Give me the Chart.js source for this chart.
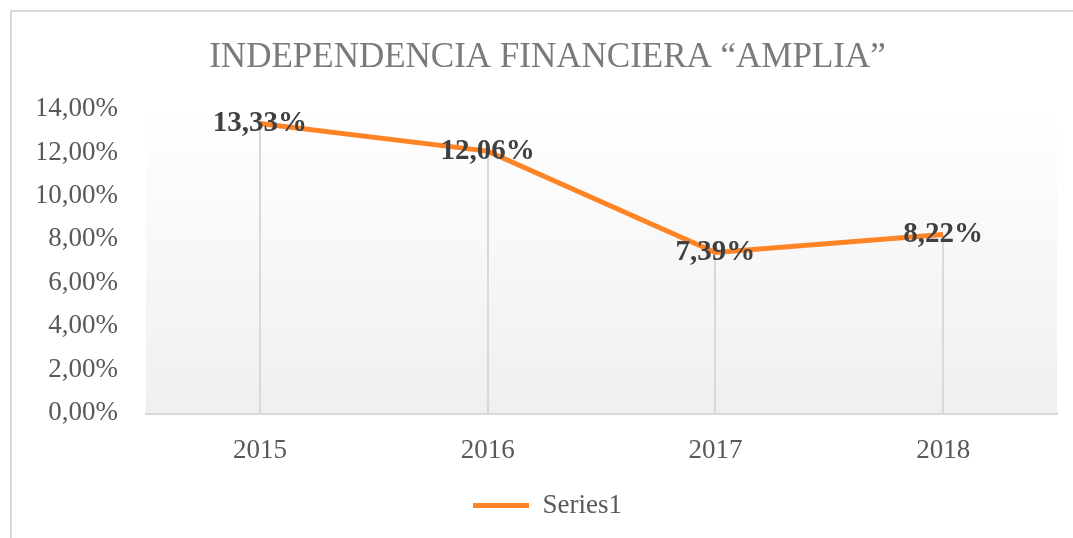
<!DOCTYPE html>
<html>
<head>
<meta charset="utf-8">
<script src="https://cdn.jsdelivr.net/npm/chart.js@4"></script>
<style>
  html, body { margin: 0; padding: 0; background: #fff; }
  #wrap { position: relative; width: 1073px; height: 538px; overflow: hidden; }
  #frame { position: absolute; left: 10px; top: 10px; width: 1080px; height: 540px; border: 2px solid #d9d9d9; box-sizing: border-box; }
  canvas { position: absolute; left: 0; top: 0; }
</style>
</head>
<body>
<div id="wrap">
  <div id="frame"></div>
  <canvas id="myChart" width="1073" height="538"></canvas>
</div>
<script>
// data
const years = ['2015', '2016', '2017', '2018'];
const series1 = [13.33, 12.06, 7.39, 8.22];
const yTicks = [0, 2, 4, 6, 8, 10, 12, 14];

const serif = '"Liberation Serif", "Times New Roman", serif';
const orange = '#ff8426';

function pct(v) {
  return v.toFixed(2).replace('.', ',') + '%';
}

// gradient panel + drop lines behind the line, labels on top
const excelLook = {
  id: 'excelLook',
  beforeDatasetsDraw(chart) {
    const { ctx, chartArea } = chart;
    const g = ctx.createLinearGradient(0, chartArea.top, 0, chartArea.bottom);
    g.addColorStop(0, '#ffffff');
    g.addColorStop(1, '#efefef');
    ctx.save();
    ctx.fillStyle = g;
    ctx.fillRect(chartArea.left, chartArea.top, chartArea.right - chartArea.left, chartArea.bottom - chartArea.top);
    const meta = chart.getDatasetMeta(0);
    ctx.strokeStyle = '#d9d9d9';
    ctx.lineWidth = 2;
    meta.data.forEach(pt => {
      ctx.beginPath();
      ctx.moveTo(Math.round(pt.x), pt.y);
      ctx.lineTo(Math.round(pt.x), chartArea.bottom);
      ctx.stroke();
    });
    ctx.restore();
  },
  afterDatasetsDraw(chart) {
    const { ctx } = chart;
    const meta = chart.getDatasetMeta(0);
    ctx.save();
    ctx.font = 'bold 29px ' + serif;
    ctx.fillStyle = '#404040';
    ctx.textAlign = 'center';
    ctx.textBaseline = 'middle';
    meta.data.forEach((pt, i) => {
      ctx.fillText(pct(series1[i]), pt.x, pt.y);
    });
    ctx.restore();
  }
};

const ctx = document.getElementById('myChart');
new Chart(ctx, {
  type: 'line',
  data: {
    labels: years,
    datasets: [{
      label: 'Series1',
      data: series1,
      borderColor: orange,
      backgroundColor: orange,
      borderWidth: 5,
      pointRadius: 0,
      pointHoverRadius: 0,
      tension: 0,
      pointStyle: 'line'
    }]
  },
  options: {
    responsive: false,
    animation: false,
    layout: { padding: { top: 37, right: 16, left: 38, bottom: 9 } },
    plugins: {
      tooltip: { enabled: false },
      title: {
        display: true,
        text: 'INDEPENDENCIA FINANCIERA “AMPLIA”',
        color: '#7a7a7a',
        font: { family: serif, size: 35, weight: 'normal' },
        padding: { top: 0, bottom: 30 }
      },
      legend: {
        position: 'bottom',
        labels: {
          usePointStyle: true,
          pointStyle: 'line',
          pointStyleWidth: 56,
          color: '#595959',
          font: { family: serif, size: 27 },
          padding: 4
        }
      }
    },
    scales: {
      x: {
        offset: true,
        afterFit(scale) {
          scale.height = 75;
        },
        grid: { display: false, drawTicks: false },
        border: { display: true, color: '#d9d9d9', width: 3 },
        ticks: { color: '#595959', font: { family: serif, size: 27 }, padding: 22 }
      },
      y: {
        min: 0,
        max: 14,
        afterBuildTicks(scale) {
          scale.ticks = yTicks.map(v => ({ value: v }));
        },
        afterFit(scale) {
          scale.width = 108;
        },
        grid: { display: false, drawTicks: false },
        border: { display: false },
        ticks: {
          color: '#595959',
          font: { family: serif, size: 27 },
          padding: 28,
          callback: v => pct(v)
        }
      }
    }
  },
  plugins: [excelLook]
});
</script>
</body>
</html>
